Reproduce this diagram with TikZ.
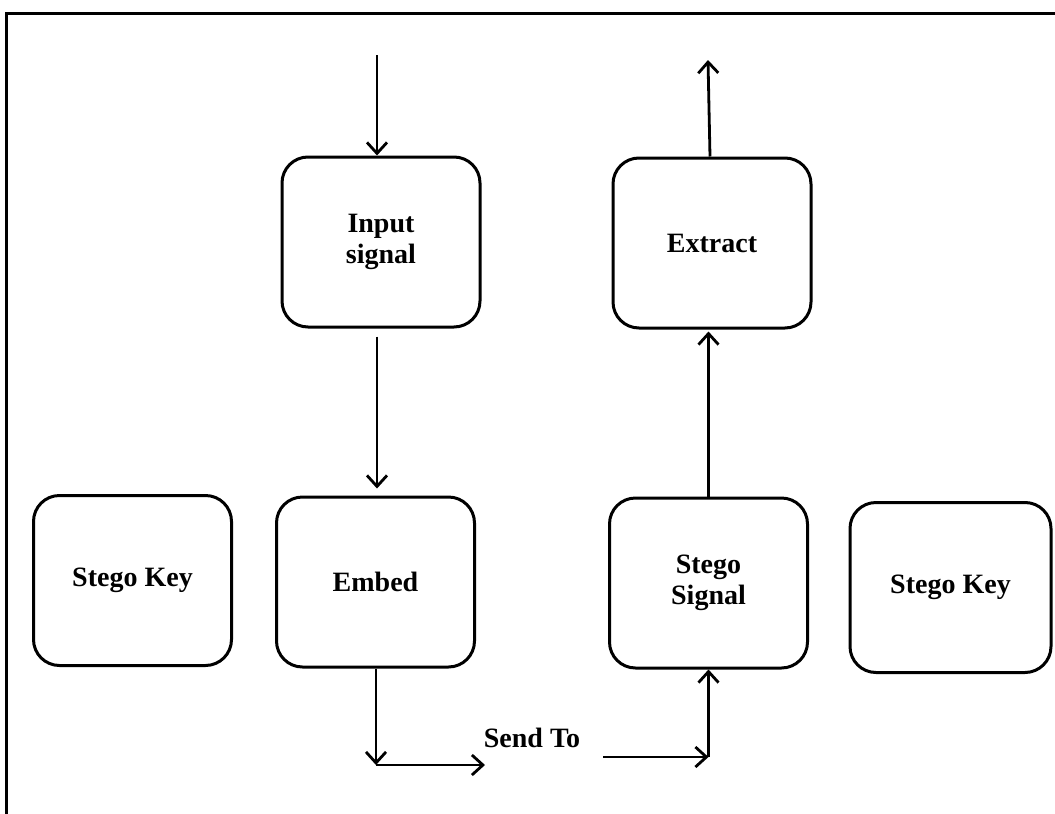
\documentclass[tikz,border=0pt]{standalone}
\usepackage{fontspec}
\setmainfont{Liberation Serif}
\usetikzlibrary{arrows.meta,calc}
\begin{document}
\begin{tikzpicture}[x=1pt,y=-1pt,
  blk/.style={draw=black, line width=3pt, rounded corners=26pt, fill=white,
    minimum width=198pt, minimum height=170pt, align=center,
    font=\fontsize{28}{31}\selectfont\bfseries},
  lbl/.style={font=\fontsize{28}{31}\selectfont\bfseries},
  arr/.style={line width=2.8pt, -{Straight Barb[length=11pt,width=20pt,line width=2.8pt]}}]
\useasboundingbox (0,0) rectangle (1055,814);
\clip (0,0) rectangle (1055,814);
\fill[white] (0,0) rectangle (1055,814);
% outer frame
\draw[line width=3.2pt] (6.5,13.5) rectangle (1070,830);

% blocks
\node[blk] (inp)  at (381,242)     {Input\\signal};
\node[blk] (ext)  at (712,243)     {Extract};
\node[blk] (keyl) at (132.5,580.5) {Stego Key};
\node[blk] (emb)  at (375.5,582)   {Embed};
\node[blk] (sig)  at (708.5,583)   {Stego\\Signal};
\node[blk, minimum width=201pt] (keyr) at (950.5,587.5) {Stego Key};
\node[lbl] (send) at (532,738) {Send To};

% free ends of the connectors
\coordinate (in)  at (377,55);
\coordinate (out) at (708,60);
\coordinate (c1)  at (376,765);
\coordinate (c2)  at (485,765);
\coordinate (c3)  at (603,757);
\coordinate (c4)  at (sig.south |- c3);

% connectors
\draw[arr] (in) -- (in |- inp.north);
\draw[arr] ([yshift=-8pt]inp.south -| in) -- ([yshift=7pt]emb.north -| in);
\draw[arr] ([xshift=-2pt]ext.north) -- (out);
\draw[arr] (sig.north) -- ([yshift=-2pt]sig.north |- ext.south);
\draw[arr] (emb.south -| c1) -- (c1);
\draw[arr] (c1) -- (c2);
\draw[arr] (c3) -- (c4);
\draw[arr] (c4) -- (sig.south);
\end{tikzpicture}
\end{document}
